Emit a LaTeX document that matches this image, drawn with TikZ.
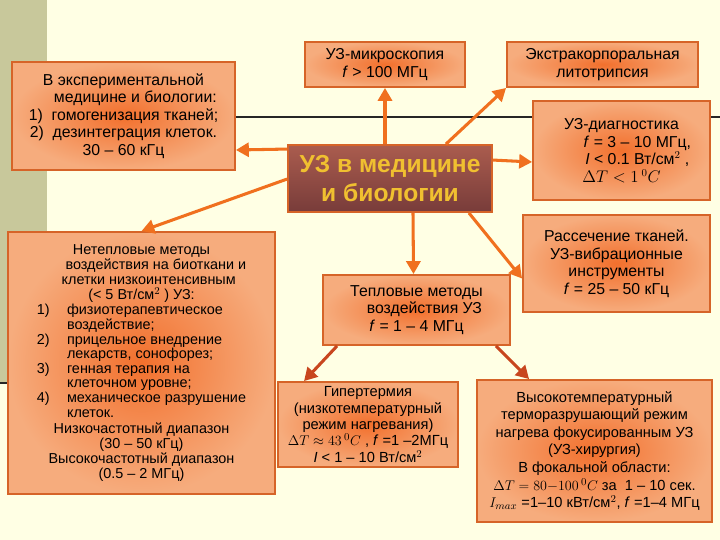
\documentclass[tikz,border=0pt]{standalone}
\usepackage{fontspec}
\setmainfont{Liberation Sans}
\usetikzlibrary{arrows.meta}
\definecolor{bgc}{RGB}{255,255,228}
\definecolor{olive}{RGB}{200,200,155}
\definecolor{bord}{RGB}{214,100,40}
\definecolor{hot}{RGB}{242,112,45}
\definecolor{warm}{RGB}{246,172,125}
\definecolor{arr}{RGB}{240,112,30}
\definecolor{arr2}{RGB}{200,70,30}
\definecolor{gold}{RGB}{240,192,48}
\definecolor{brtop}{RGB}{170,92,78}
\definecolor{brbot}{RGB}{120,60,58}
\tikzset{
 box/.style={draw=bord,line width=1.6pt,inner color=hot,outer color=warm,align=center,font=\fontsize{13.5}{15}\selectfont,inner sep=1pt},
 conn/.style={draw=arr,line width=2.6pt,-{Triangle[length=11pt,width=12pt]}},
 conn2/.style={draw=arr2,line width=2.6pt,-{Triangle[length=11pt,width=12pt]}},
}
\begin{document}
\begin{tikzpicture}[x=0.03cm,y=-0.03cm]
\fill[bgc] (0,0) rectangle (720,540);
\useasboundingbox (0,0) rectangle (720,540);
\fill[olive] (0,0) rectangle (47,383);
\draw[line width=1.3pt,black!85] (235,117) -- (720,117);
\draw[line width=1.3pt,black!85] (0,383) -- (20,383);

\node[box,minimum width=223*0.03cm,minimum height=108*0.03cm] (A) at (123.5,116) {В экспериментальной\\ \hspace*{1.5em}медицине и биологии:\\ 1)\ \ гомогенизация тканей;\\ 2)\ \ дезинтеграция клеток.\\ 30 – 60 кГц};
\node[box,minimum width=160*0.03cm,minimum height=45*0.03cm] (B) at (385,64.5) {УЗ-микроскопия\\ \textit{f} > 100 МГц};
\node[box,minimum width=191*0.03cm,minimum height=45*0.03cm] (C) at (602.5,64.5) {Экстракорпоральная\\ литотрипсия};
\node[box,minimum width=177*0.03cm,minimum height=99*0.03cm] (D) at (621.5,150.5) {УЗ-диагностика\\ \hspace*{2em}\textit{f} = 3 – 10 МГц,\\ \hspace*{2em}\textit{I} < 0.1 Вт/см$^2$ ,\\ $\Delta T<1\,^0C$};
\node[draw=bord,line width=1.6pt,top color=brtop,bottom color=brbot,minimum width=204*0.03cm,minimum height=67*0.03cm,align=center,text=gold,font=\fontsize{21}{25}\selectfont\bfseries] (M) at (390,178.5) {УЗ в медицине\\ и биологии};
\node[box,minimum width=187*0.03cm,minimum height=97*0.03cm] (E) at (616.5,263.5) {Рассечение тканей.\\ УЗ-вибрационные\\ инструменты\\ \textit{f} = 25 – 50 кГц};
\node[box,minimum width=267*0.03cm,minimum height=262*0.03cm,font=\fontsize{12.3}{12.9}\selectfont] (F) at (141.5,363) {Нетепловые методы\\ \hspace*{2em}воздействия на биоткани и\\ \hspace*{1em}клетки низкоинтенсивным\\ (< 5 Вт/см$^2$ ) УЗ:\\
\renewcommand\arraystretch{0.95}\begin{tabular}{@{}l@{\hspace{1.2em}}l@{}}
1) & физиотерапевтическое\\ & воздействие;\\
2) & прицельное внедрение\\ & лекарств, сонофорез;\\
3) & генная терапия на\\ & клеточном уровне;\\
4) & механическое разрушение\\ & клеток.
\end{tabular}\\
Низкочастотный диапазон\\ (30 – 50 кГц)\\ Высокочастотный диапазон\\ (0.5 – 2 МГц)};
\node[box,minimum width=187*0.03cm,minimum height=70*0.03cm] (G) at (416.5,310) {Тепловые методы\\ \hspace*{1em}воздействия УЗ\\ \textit{f} = 1 – 4 МГц};
\node[box,minimum width=180*0.03cm,minimum height=85*0.03cm,font=\fontsize{12.5}{14}\selectfont] (H) at (368,424.5) {Гипертермия\\ (низкотемпературный\\ режим нагревания)\\ $\Delta T\approx 43\,^0C$ , \textit{f} =1 –2МГц\\ \textit{I} < 1 – 10 Вт/см$^2$};
\node[box,minimum width=235*0.03cm,minimum height=142*0.03cm,font=\fontsize{12.5}{15}\selectfont] (I) at (594.5,451) {Высокотемпературный\\ терморазрушающий режим\\ нагрева фокусированным УЗ\\ (УЗ-хирургия)\\ В фокальной области:\\ $\Delta T=80{-}100\,^0C$ за\ \ 1 – 10 сек.\\ $I_{max}$ =1–10 кВт/см$^2$, \textit{f} =1–4 МГц};

\draw[conn] (M.north west -| B.south) -- (B.south);
\draw[conn] ([xshift=-47*0.03cm]M.north east) -- (C.south west);
\draw[conn] ([yshift=16*-0.03cm]M.north east) -- (D.west |- {(0,162)});
\draw[conn] ([xshift=-24*0.03cm]M.south east) -- ([yshift=-15*0.03cm]E.west);
\draw[conn] ([xshift=23*0.03cm]M.south) -- ([xshift=-3*0.03cm]G.north);
\draw[conn] ([yshift=-5*0.03cm]M.north west) -- (A.east |- {(0,150)});
\draw[conn] ([yshift=35*-0.03cm]M.north west) -- (F.north);
\draw[conn2] ([xshift=15*0.03cm]G.south west) -- ([xshift=27*0.03cm]H.north west);
\draw[conn2] ([xshift=-15*0.03cm]G.south east) -- ([xshift=53*0.03cm]I.north west);
\end{tikzpicture}
\end{document}
